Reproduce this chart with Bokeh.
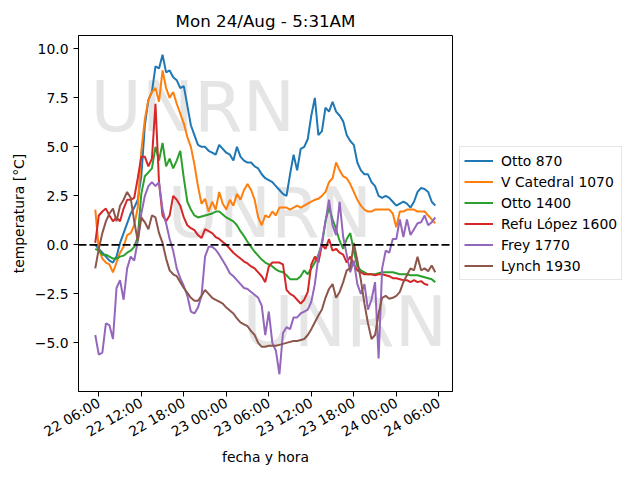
import numpy as np
import pandas as pd
from bokeh.plotting import figure
from bokeh.models import Range1d, FixedTicker, Span, Legend, LegendItem, Label
from bokeh.embed import file_html
from bokeh.resources import INLINE

title = "Mon 24/Aug - 5:31AM"
times = pd.date_range("2020-08-22 05:30", "2020-08-24 05:30", freq="30min")

names = ["Otto 870", "V Catedral 1070", "Otto 1400", "Refu López 1600", "Frey 1770", "Lynch 1930"]
colors = ["#1f77b4", "#ff7f0e", "#2ca02c", "#d62728", "#9467bd", "#8c564b"]

otto_870 = [
    0.0, -0.2, -0.4, -0.6, -0.8, -0.9, -0.6, 0.1, 0.6, 1.1,
    1.6, 1.9, 2.3, 3.5, 6.1, 7.4, 7.8, 9.1, 9.0, 9.7,
    8.8, 8.9, 8.55, 8.4, 8.0, 8.1, 7.1, 6.1, 5.6, 5.1,
    5.0, 5.0, 4.8, 4.7, 4.6, 5.1, 4.9, 4.7, 4.6, 4.3,
    5.0, 4.5, 4.3, 4.2, 4.2, 4.0, 3.9, 3.6, 3.4, 3.3,
    3.2, 3.0, 2.8, 2.6, 2.5, 3.6, 4.6, 3.8, 4.9, 5.0,
    5.4, 6.6, 7.5, 5.6, 5.8, 7.0, 6.8, 7.3, 6.8, 6.6,
    6.3, 5.6, 5.3, 5.1, 4.2, 3.8, 3.6, 3.6, 3.2, 3.0,
    2.5, 2.4, 2.5, 2.4, 2.2, 2.0, 2.1, 2.2, 2.1, 1.9,
    2.2, 2.7, 2.9, 2.85, 2.7, 2.2, 2.0,
]
v_catedral_1070 = [
    1.8, -0.2, -0.7, -0.9, -1.0, -1.4, -0.9, -0.4, -0.1, 0.5,
    0.6, 1.0, 1.9, 4.8, 6.4, 7.4, 7.8, 8.0, 7.3, 8.9,
    8.0, 7.5, 7.8, 7.2, 6.7, 6.2, 5.5, 5.0, 4.1, 3.0,
    2.1, 2.35, 1.7, 2.2, 1.8, 2.7, 2.1, 1.8, 2.3, 2.0,
    2.6, 2.3, 2.8, 3.1, 2.8, 2.3, 1.4, 1.0, 1.5, 1.4,
    1.7, 1.5, 1.9, 1.9, 1.9, 1.8, 1.9, 2.0, 1.9, 2.0,
    2.1, 2.2, 2.3, 2.35, 2.5, 2.7, 3.2, 3.4, 4.2, 3.8,
    3.5, 3.4, 3.1, 2.7, 2.3, 2.0, 1.8, 1.7, 1.7, 1.8,
    1.8, 1.8, 1.8, 1.8, 1.6, 0.9, 1.7, 1.7, 1.8, 1.8,
    1.8, 1.7, 1.7, 1.7, 1.5, 1.3, 1.1,
]
otto_1400 = [
    -0.2, -0.3, -0.5, -0.5, -0.6, -0.7, -0.7, -0.6, -0.55, -0.4,
    -0.3, -0.1, 0.4, 2.6, 3.5, 3.7, 3.9, 5.0, 4.3, 5.2,
    4.0, 4.4, 3.9, 4.3, 4.8, 3.4, 2.2, 1.8, 1.5, 1.4,
    1.45, 1.5, 1.55, 1.6, 1.7, 1.7, 1.55, 1.4, 1.3, 1.2,
    1.0, 0.7, 0.45, 0.15, -0.1, -0.35, -0.55, -0.75, -0.9, -1.0,
    -1.1, -1.25, -1.35, -1.4, -1.55, -1.75, -1.75, -1.75, -1.6, -1.3,
    -1.5, -1.2, -0.9, -0.5, 0.0, 1.2, 1.9, 1.3, 0.8, 0.2,
    -0.2, 0.3, 0.6, -0.3, -1.1, -1.3, -1.4, -1.5, -1.5, -1.5,
    -1.45, -1.4, -1.4, -1.4, -1.4, -1.45, -1.5, -1.5, -1.5, -1.55,
    -1.55, -1.55, -1.6, -1.65, -1.7, -1.75, -1.9,
]
refu_lopez_1600 = [
    0.1, 1.5, 1.7, 1.85, 1.5, 1.2, 1.4, 1.2, 1.85, 2.3,
    2.3, 2.4, 3.4, 4.5, 4.5, 4.0, 4.4, 7.2, 3.2, 1.5,
    1.2, 1.5, 2.5, 2.3, 2.0, 1.4, 1.0, 0.85, 0.75, 0.5,
    0.35, 0.8, 0.7, 0.6, 0.4, 0.3, 0.15, 0.0, -0.2, -0.4,
    -0.55, -0.7, -0.85, -0.95, -1.1, -1.2, -1.4, -1.6, -1.9, -1.1,
    -0.9, -0.9, -0.9, -1.0, -2.3, -2.5, -2.6, -2.8, -3.0, -2.8,
    -2.4, -1.0, -0.6, -0.9, 0.0, -0.2, 0.3, -0.3, -0.2, -0.4,
    -0.5, -0.9, -0.6, -1.0, -1.3, -1.4, -1.5, -1.5, -1.5, -1.55,
    -1.5, -1.5, -1.55, -1.6, -1.7, -1.7, -1.75, -1.8, -1.8, -1.9,
    -1.8, -1.9, -1.85, -2.0, -2.05, float("nan"), float("nan"),
]
frey_1770 = [
    -4.6, -5.6, -5.5, -4.0, -4.1, -4.8, -2.2, -1.8, -2.8, -1.2,
    -0.6, -0.8, 0.2, 1.6, 2.5, 3.0, 3.2, 3.0, 3.2, 1.8,
    1.1, 0.3, -0.3, -1.2, -1.7, -2.1, -2.6, -3.4, -3.5, -3.2,
    -2.6, -0.6, -0.1, -0.1, -0.25, -0.5, -0.8, -1.1, -1.45, -1.6,
    -1.8, -2.0, -2.2, -2.25, -2.4, -2.55, -2.7, -3.1, -4.6, -3.4,
    -5.0, -5.4, -6.6, -4.5, -4.2, -4.3, -3.7, -3.7, -3.5, -3.4,
    -3.3, -2.9, -2.0, -0.6, 0.15, 1.2, 2.3, 1.0, 0.5, 2.2,
    0.4, -0.5, -1.4, -0.8, -2.0, -2.5, -2.0, -3.3, -2.8, -1.9,
    -5.8, -1.2, -0.3, -0.4, 0.3, 0.3, 1.3, 0.4, 1.3, 0.5,
    0.8, 1.1, 1.15, 1.5, 1.0, 1.15, 1.4,
]
lynch_1930 = [
    -1.2, -0.2, 0.6, 1.2, 1.6, 1.85, 1.2, 2.0, 2.3, 2.7,
    2.4, 1.2, 0.2, 1.4, 1.15, 0.8, 1.5, 1.4, 0.6, 0.1,
    -0.7, -1.3, -1.5, -1.6, -1.9, -2.2, -2.45, -2.7, -2.85, -2.85,
    -2.6, -2.3, -2.5, -2.7, -2.8, -2.9, -3.0, -3.2, -3.35, -3.5,
    -3.75, -3.95, -4.05, -4.15, -4.4, -4.6, -5.0, -5.2, -5.2, -5.15,
    -5.15, -5.15, -5.1, -5.05, -5.0, -4.95, -4.9, -4.9, -4.85, -4.8,
    -4.6, -4.3, -3.95, -3.6, -3.3, -2.7, -2.25, -2.0, -2.7, -2.4,
    -1.9, -1.3, -1.2, 0.1, -0.8, -1.8, -3.0, -4.0, -4.8, -4.6,
    -3.5, -2.7, -2.6, -2.75, -2.7, -2.6, -2.4, -1.9, -1.55, -1.2,
    -1.3, -0.6, -1.3, -1.2, -1.35, -1.05, -1.4,
]
series = [otto_870, v_catedral_1070, otto_1400, refu_lopez_1600, frey_1770, lynch_1930]

x_tick_times = ["2020-08-22 06:00", "2020-08-22 12:00", "2020-08-22 18:00",
                "2020-08-23 00:00", "2020-08-23 06:00", "2020-08-23 12:00",
                "2020-08-23 18:00", "2020-08-24 00:00", "2020-08-24 06:00"]
x_tick_labels = ["22 06:00", "22 12:00", "22 18:00", "23 00:00", "23 06:00",
                 "23 12:00", "23 18:00", "24 00:00", "24 06:00"]
y_ticks = [-7.5, -5.0, -2.5, 0.0, 2.5, 5.0, 7.5, 10.0]
y_tick_labels = ["\u22127.5", "\u22125.0", "\u22122.5", "0.0", "2.5", "5.0", "7.5", "10.0"]
watermark = "UNRN"

FONT = "DejaVu Sans"

p = figure(
    x_axis_type="datetime",
    frame_width=374, frame_height=356,
    min_border_left=78, min_border_top=35, min_border_bottom=75, min_border_right=0,
    x_range=Range1d(pd.Timestamp("2020-08-22 03:08"), pd.Timestamp("2020-08-24 07:56")),
    y_range=Range1d(-7.48, 10.68),
    title=title,
    output_backend="svg", toolbar_location=None,
)
p.background_fill_color = "white"
p.border_fill_color = "white"
p.grid.visible = False
p.outline_line_color = "black"
p.outline_line_width = 1
p.outline_line_alpha = 1

p.title.text_font = FONT
p.title.text_font_size = "16.7px"
p.title.text_font_style = "normal"
p.title.text_color = "black"
p.title.align = "center"

# watermarks
for (sx, sy) in [(12, 285), (89, 179), (164, 70)]:
    p.add_layout(Label(x=sx, y=sy, x_units="screen", y_units="screen", text=watermark,
                       text_font=FONT, text_font_size="70px", text_color="#d3d3d3",
                       text_alpha=0.6, text_baseline="alphabetic", level="underlay"))

renderers = []
for name, col, vals in zip(names, colors, series):
    r = p.line(times, vals, line_color=col, line_width=2)
    renderers.append(r)

p.add_layout(Span(location=0, dimension="width", line_color="black",
                  line_dash="8 3", line_width=1.6))

tick_ms = [int(pd.Timestamp(t).value // 10**6) for t in x_tick_times]
p.xaxis.ticker = FixedTicker(ticks=tick_ms)
p.xaxis.major_label_overrides = dict(zip(tick_ms, x_tick_labels))
p.xaxis.major_label_orientation = np.pi / 6
p.yaxis.ticker = FixedTicker(ticks=y_ticks)
p.yaxis.major_label_overrides = dict(zip(y_ticks, y_tick_labels))
p.xaxis.axis_label = "fecha y hora"
p.yaxis.axis_label = "temperatura [°C]"

for ax in (p.xaxis, p.yaxis):
    ax.major_label_text_font = FONT
    ax.major_label_text_font_size = "13.9px"
    ax.major_label_text_color = "black"
    ax.axis_label_text_font = FONT
    ax.axis_label_text_font_size = "13.9px"
    ax.axis_label_text_font_style = "normal"
    ax.axis_label_text_color = "black"
    ax.axis_line_color = "black"
    ax.major_tick_line_color = "black"
    ax.major_tick_in = 0
    ax.major_tick_out = 5
    ax.minor_tick_line_color = None
    ax.major_label_standoff = 5
p.yaxis.axis_label_standoff = 5
p.xaxis.axis_label_standoff = 0

legend = Legend(
    items=[LegendItem(label=n, renderers=[r]) for n, r in zip(names, renderers)],
    location="center_left",
    label_text_font=FONT, label_text_font_size="13.9px", label_text_color="black",
    glyph_width=29, glyph_height=19, label_height=19, spacing=2,
    label_standoff=8, padding=4, margin=7,
    border_line_color="#cccccc", border_line_width=1,
    background_fill_color="white", background_fill_alpha=0.8,
)
p.add_layout(legend, "right")

open("out.html", "w").write(file_html(p, INLINE))
